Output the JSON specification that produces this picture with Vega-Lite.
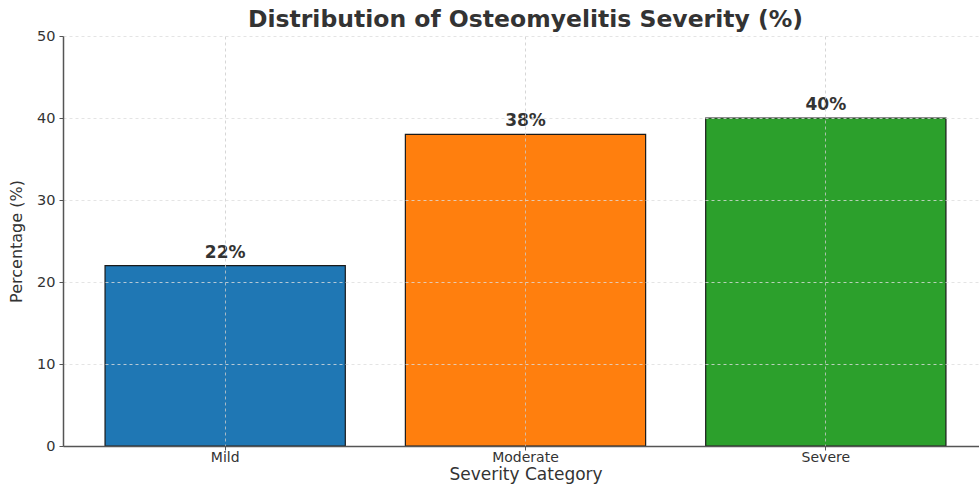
{
  "$schema": "https://vega.github.io/schema/vega-lite/v6.json",
  "autosize": "none",
  "padding": {"left": 63, "top": 36, "right": 0, "bottom": 38},
  "width": 925,
  "height": 410,
  "background": "white",
  "title": {
    "text": "Distribution of Osteomyelitis Severity (%)",
    "font": "DejaVu Sans",
    "fontSize": 23.5,
    "fontWeight": "bold",
    "color": "#333333",
    "anchor": "middle",
    "offset": 8,
    "dy": 11
  },
  "data": {
    "values": [
      {"category": "Mild", "pct": 22, "label": "22%"},
      {"category": "Moderate", "pct": 38, "label": "38%"},
      {"category": "Severe", "pct": 40, "label": "40%"}
    ]
  },
  "config": {
    "view": {"stroke": null},
    "font": "DejaVu Sans"
  },
  "encoding": {
    "x": {
      "field": "category",
      "type": "nominal",
      "sort": null,
      "scale": {"paddingInner": 0.2, "paddingOuter": 0.14},
      "axis": {
        "title": "Severity Category",
        "titleFont": "DejaVu Sans",
        "titleFontSize": 17,
        "titleFontWeight": "normal",
        "titleColor": "#333333",
        "titleBaseline": "alphabetic",
        "titleY": 33,
        "labelAngle": 0,
        "labelFont": "DejaVu Sans",
        "labelFontSize": 14,
        "labelColor": "#333333",
        "labelPadding": 0,
        "domainColor": "#555555",
        "domainWidth": 1.5,
        "tickColor": "#555555",
        "tickSize": 4,
        "grid": true,
        "gridColor": "#cccccc",
        "gridDash": [3, 3],
        "gridWidth": 0.8,
        "zindex": 1
      }
    },
    "y": {
      "field": "pct",
      "type": "quantitative",
      "scale": {"domain": [0, 50]},
      "axis": {
        "title": "Percentage (%)",
        "titleFont": "DejaVu Sans",
        "titleFontSize": 16,
        "titleFontWeight": "normal",
        "titleColor": "#333333",
        "titlePadding": 12,
        "values": [0, 10, 20, 30, 40, 50],
        "labelFont": "DejaVu Sans",
        "labelFontSize": 14.5,
        "labelColor": "#333333",
        "labelPadding": 4,
        "domainColor": "#555555",
        "domainWidth": 1.5,
        "tickColor": "#555555",
        "tickSize": 4,
        "grid": true,
        "gridColor": "#dddddd",
        "gridDash": [3, 3],
        "gridWidth": 0.8,
        "zindex": 1
      }
    }
  },
  "layer": [
    {
      "mark": {"type": "bar", "stroke": "#1a1a1a", "strokeWidth": 1.2},
      "encoding": {
        "color": {
          "field": "category",
          "type": "nominal",
          "sort": null,
          "scale": {"domain": ["Mild", "Moderate", "Severe"], "range": ["#1f77b4", "#ff7f0e", "#2ca02c"]},
          "legend": null
        }
      }
    },
    {
      "mark": {"type": "text", "baseline": "alphabetic", "dy": -8, "font": "DejaVu Sans", "fontSize": 17, "fontWeight": "bold", "color": "#333333"},
      "encoding": {"text": {"field": "label"}}
    }
  ]
}
